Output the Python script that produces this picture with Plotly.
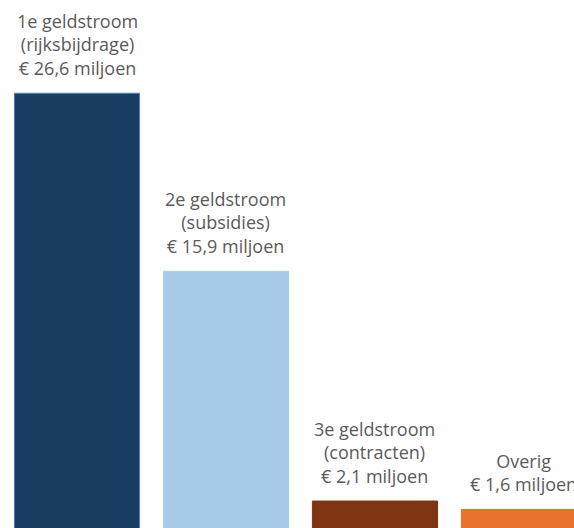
import plotly.graph_objects as go

categories = ["1e geldstroom", "2e geldstroom", "3e geldstroom", "Overig"]
values = [26.6, 15.9, 2.1, 1.6]
labels = [
    "1e geldstroom<br>(rijksbijdrage)<br>€ 26,6 miljoen",
    "2e geldstroom<br>(subsidies)<br>€ 15,9 miljoen",
    "3e geldstroom<br>(contracten)<br>€ 2,1 miljoen",
    "Overig<br>€ 1,6 miljoen",
]
colors = ["#193c61", "#a8cbea", "#7f3412", "#e8722f"]
line_colors = ["#4f81bd", "#a8cbea", "#7f3412", "#e8722f"]

xs = list(range(len(categories)))
fig = go.Figure(go.Bar(
    x=xs, y=values, width=0.84,
    marker=dict(color=colors, line=dict(color=line_colors, width=1)),
    hoverinfo="skip",
))

for x, v, t in zip(xs, values, labels):
    fig.add_annotation(
        x=x, y=v, text=t, showarrow=False, xref="x", yref="y",
        yanchor="bottom", yshift=11,
        font=dict(family="'Open Sans', 'Century Gothic', sans-serif", size=18, color="#5a5a5a"),
        align="center",
    )

fig.update_layout(
    width=574, height=528,
    margin=dict(l=0, r=0, t=0, b=0),
    paper_bgcolor="white", plot_bgcolor="white",
    showlegend=False,
    xaxis=dict(range=[-0.517, 3.336], visible=False, fixedrange=True),
    yaxis=dict(range=[0.48, 32.2], visible=False, fixedrange=True),
)
fig.write_html("out.html", config={"displayModeBar": False})
